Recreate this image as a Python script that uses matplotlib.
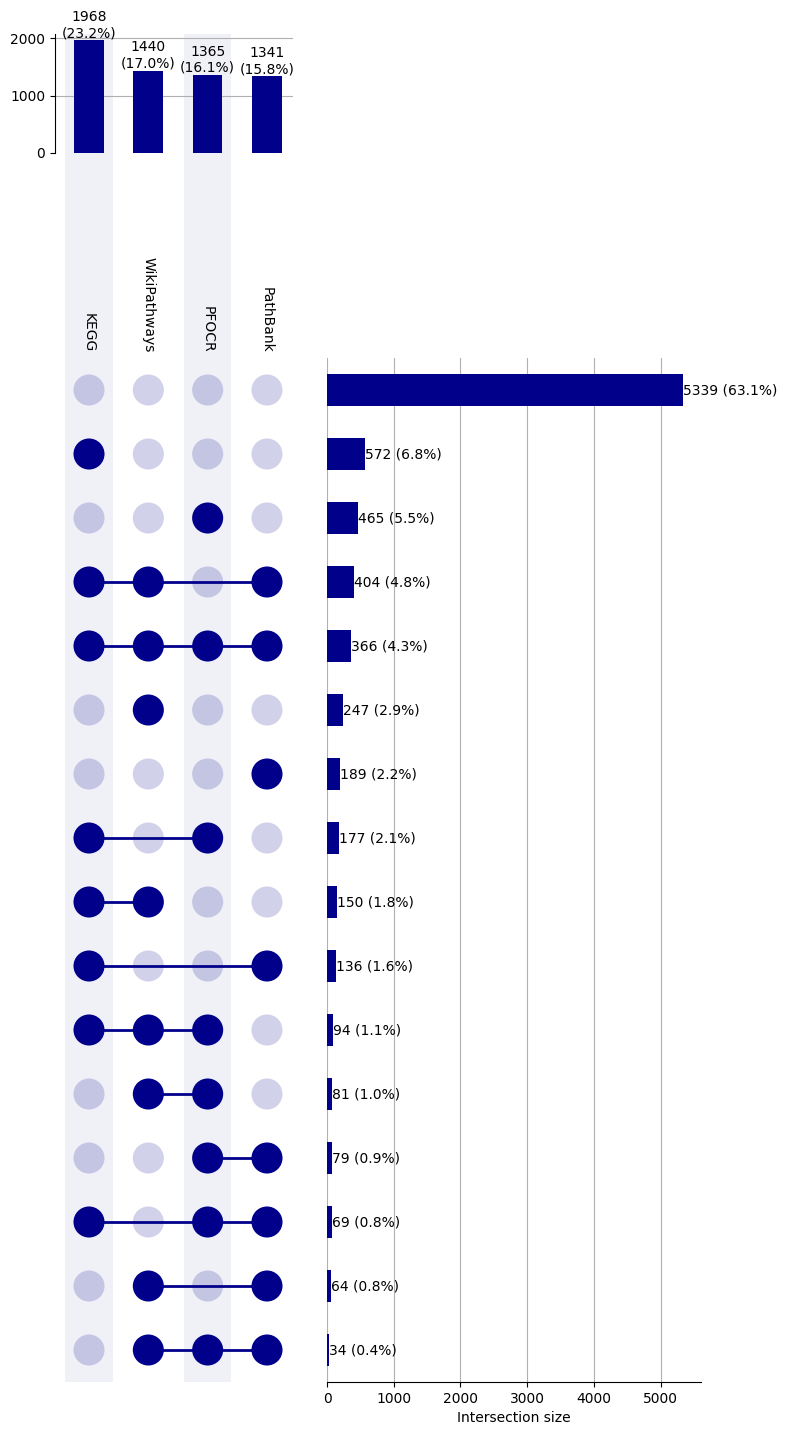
import matplotlib

matplotlib.use("Agg")
import matplotlib.pyplot as plt

# --- DATA

SET_NAMES = ["KEGG", "WikiPathways", "PFOCR", "PathBank"]
SET_TOTALS = [1968, 1440, 1365, 1341]

# membership per intersection row: KEGG, WikiPathways, PFOCR, PathBank
MEMBERSHIP = [
    [0, 0, 0, 0],
    [1, 0, 0, 0],
    [0, 0, 1, 0],
    [1, 1, 0, 1],
    [1, 1, 1, 1],
    [0, 1, 0, 0],
    [0, 0, 0, 1],
    [1, 0, 1, 0],
    [1, 1, 0, 0],
    [1, 0, 0, 1],
    [1, 1, 1, 0],
    [0, 1, 1, 0],
    [0, 0, 1, 1],
    [1, 0, 1, 1],
    [0, 1, 0, 1],
    [0, 1, 1, 1],
]
INTERSECTION_SIZES = [5339, 572, 465, 404, 366, 247, 189, 177, 150, 136, 94, 81, 79, 69, 64, 34]

COLOR = "#00008B"
W, H = 788, 1435


def px_box(left, top, right, bottom):
    return [left / W, 1 - bottom / H, (right - left) / W, (bottom - top) / H]


def main():
    plt.rcParams["font.size"] = 10
    fig = plt.figure(figsize=(W / 100, H / 100), dpi=100)

    n_sets = len(SET_NAMES)
    n_rows = len(INTERSECTION_SIZES)
    grand_total = sum(INTERSECTION_SIZES)

    col0, col_step = 89.0, 59.33  # pixel centre of first column, column spacing
    mat_left = col0 - col_step / 2
    mat_right = mat_left + n_sets * col_step
    mat_top, mat_bottom = 358, 1382

    # --- shading behind alternate set columns
    ax_bg = fig.add_axes(px_box(mat_left, 34, mat_right, mat_bottom), zorder=0)
    ax_bg.set_xlim(-0.5, n_sets - 0.5)
    ax_bg.set_ylim(0, 1)
    ax_bg.axis("off")
    for i in range(0, n_sets, 2):
        ax_bg.axvspan(i - 0.4, i + 0.4, color="#f0f0f7", lw=0)

    # --- set totals (top)
    tot_left, tot_right = 55, 293
    ax_tot = fig.add_axes(px_box(tot_left, 34, tot_right, 153), zorder=1)
    ax_tot.patch.set_alpha(0)
    ax_tot.set_xlim((tot_left - col0) / col_step, (tot_right - col0) / col_step)
    ax_tot.bar(range(n_sets), SET_TOTALS, width=0.5, color=COLOR, zorder=2)
    ax_tot.set_ylim(0, max(SET_TOTALS) * 1.056)
    ax_tot.set_yticks([0, 1000, 2000])
    ax_tot.set_xticks([])
    ax_tot.set_axisbelow(True)
    ax_tot.yaxis.grid(True, color="#b0b0b0", linewidth=0.8)
    ax_tot.get_ygridlines()[0].set_visible(False)
    for side in ["top", "right", "bottom"]:
        ax_tot.spines[side].set_visible(False)
    for i, v in enumerate(SET_TOTALS):
        ax_tot.text(i, v, f"{v}\n({v / grand_total * 100:.1f}%)", ha="center", va="bottom")

    # --- matrix of dots
    ax_mat = fig.add_axes(px_box(mat_left, mat_top, mat_right, mat_bottom), zorder=1)
    ax_mat.patch.set_alpha(0)
    ax_mat.set_xlim(-0.5, n_sets - 0.5)
    ax_mat.set_ylim(n_rows - 0.5, -0.5)
    ax_mat.axis("off")
    for r, row in enumerate(MEMBERSHIP):
        xs = list(range(n_sets))
        colors = [COLOR if m else (0, 0, 0.545, 0.18) for m in row]
        ax_mat.scatter(xs, [r] * n_sets, s=500, c=colors, linewidths=0, zorder=1)
        active = [i for i, m in enumerate(row) if m]
        if len(active) > 1:
            ax_mat.plot([min(active), max(active)], [r, r], color=COLOR, lw=2, zorder=2)
    for i, name in enumerate(SET_NAMES):
        ax_mat.annotate(
            name,
            xy=(i, -0.5),
            xytext=(0, 4),
            textcoords="offset points",
            rotation=-90,
            ha="center",
            va="bottom",
            annotation_clip=False,
        )

    # --- intersection sizes (right)
    ax_int = fig.add_axes(px_box(327, mat_top, 701, mat_bottom), zorder=1)
    ax_int.patch.set_alpha(0)
    ax_int.barh(range(n_rows), INTERSECTION_SIZES, height=0.5, color=COLOR, zorder=2)
    ax_int.set_ylim(n_rows - 0.5, -0.5)
    ax_int.set_xlim(0, max(INTERSECTION_SIZES) * 1.05)
    ax_int.set_xticks([0, 1000, 2000, 3000, 4000, 5000])
    ax_int.set_yticks([])
    ax_int.set_axisbelow(True)
    ax_int.xaxis.grid(True, color="#b0b0b0", linewidth=0.8)
    for side in ["top", "right", "left"]:
        ax_int.spines[side].set_visible(False)
    ax_int.set_xlabel("Intersection size")
    for r, v in enumerate(INTERSECTION_SIZES):
        ax_int.text(v, r, f"{v} ({v / grand_total * 100:.1f}%)", ha="left", va="center")

    fig.savefig("out.png", dpi=100)


if __name__ == "__main__":
    main()
